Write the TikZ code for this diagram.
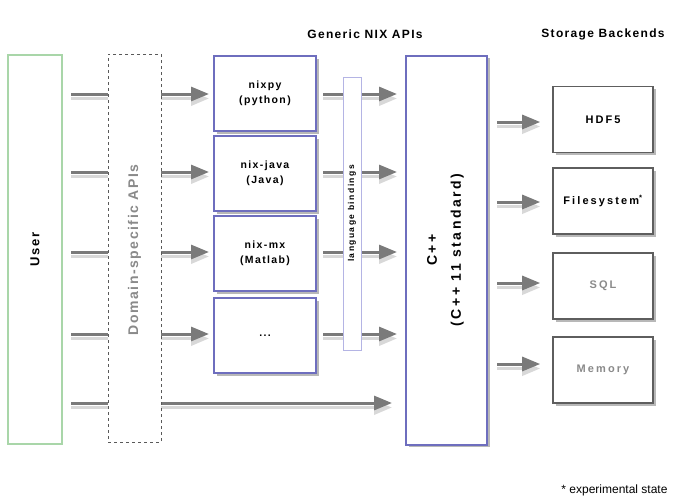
\documentclass[tikz,border=0pt]{standalone}
\usepackage{fontspec}
\setmainfont{Liberation Sans}
\usetikzlibrary{shadows,arrows.meta,calc}
\pgfdeclarelayer{bg}
\pgfsetlayers{bg,main}
\definecolor{arrowgray}{HTML}{7A7A7A}
\definecolor{shadowgray}{HTML}{D8D8D8}
\definecolor{apiblue}{HTML}{6E6EBE}
\definecolor{bindblue}{HTML}{B4B4E4}
\definecolor{usergreen}{HTML}{A9D6A9}
\definecolor{storegray}{HTML}{5E5E5E}
\definecolor{labelgray}{HTML}{8A8A8A}
\tikzset{
  boxshadow/.style={drop shadow={shadow xshift=2.5pt, shadow yshift=-2.5pt, fill=black, opacity=0.28}},
  apibox/.style={draw=apiblue, line width=2pt, fill=white, minimum width=102pt, minimum height=75pt, boxshadow, align=center, font=\fontsize{10.5}{15}\selectfont\bfseries\addfontfeature{LetterSpace=13}},
  storebox/.style={draw=storegray, line width=1.6pt, fill=white, minimum width=100pt, minimum height=66pt, boxshadow, font=\fontsize{11}{13}\selectfont\bfseries\addfontfeature{LetterSpace=19}},
  conn/.style={arrowgray, line width=3pt, -{Triangle[length=18pt, width=14pt]},
    preaction={draw=shadowgray, line width=3.5pt, -{Triangle[length=18pt, width=14pt]}, transform canvas={yshift=-4.5pt}}},
  plainconn/.style={arrowgray, line width=3pt,
    preaction={draw=shadowgray, line width=3.5pt, transform canvas={yshift=-4.5pt}}},
  title/.style={font=\fontsize{12}{14}\selectfont\bfseries\addfontfeature{LetterSpace=11}}
}
\begin{document}
\begin{tikzpicture}[x=1pt,y=-1pt]
\useasboundingbox (0,0) rectangle (674,501);
% user
\node[draw=usergreen, line width=2pt, fill=white, minimum width=54pt, minimum height=389pt] (user) at (35,249.5) {};
\node[rotate=90, font=\fontsize{13}{15}\selectfont\bfseries\addfontfeature{LetterSpace=14}] (usertxt) at (user) {User};
% domain specific
\node[draw=black!65, dashed, line width=0.8pt, fill=white, minimum width=53pt, minimum height=388pt] (dom) at (134.5,248) {};
\node[rotate=90, text=labelgray, font=\fontsize{14}{16}\selectfont\bfseries\addfontfeature{LetterSpace=11}] (domtxt) at ($(dom)+(0,2)$) {Domain-specific APIs};
% titles
\node[title] (t1) at (365,34) {Generic NIX APIs};
\node[title] (t2) at (603,34) {Storage Backends};
% api boxes
\node[apibox] (nixpy) at (265,93.5) {nixpy\\(python)};
\node[apibox] (java) at (265,173.5) {nix-java\\(Java)};
\node[apibox] (mx) at (265,253.5) {nix-mx\\(Matlab)};
\node[apibox] (dots) at (265,335.5) {...};
% bindings bar
\node[draw=bindblue, line width=1pt, fill=white, minimum width=18pt, minimum height=273pt] (bind) at (352,213.5) {};
\node[rotate=90, font=\fontsize{8.5}{10}\selectfont\bfseries\addfontfeature{LetterSpace=17}] (bindtxt) at (bind) {language bindings};
% C++
\node[draw=apiblue, line width=2pt, fill=white, minimum width=81pt, minimum height=389pt, boxshadow] (cpp) at (446.5,250) {};
\node[rotate=90, align=center, font=\fontsize{14}{24}\selectfont\bfseries\addfontfeature{LetterSpace=18}] (cpptxt) at ($(cpp)+(-1,0)$) {C++\\(C++ 11 standard)};
% storage
\node[storebox] (hdf) at (603,119.5) {HDF5};
\node[storebox] (fs) at (603,201) {Filesystem\textsuperscript{*}};
\node[storebox] (sql) at (603,286) {\textcolor{labelgray}{SQL}};
\node[storebox] (mem) at (603,370) {\textcolor{labelgray}{Memory}};
% footnote
\node[anchor=base east, font=\fontsize{12}{14}\selectfont] (note) at (671,493) {* experimental state};
\coordinate (drow) at (0,403);
\begin{pgfonlayer}{bg}
  % user -> APIs
  \foreach \b/\dy in {nixpy/0.5, java/-1.5, mx/-1.5, dots/-1.5}{
    \draw[plainconn, shorten <=8pt] ($(user.east |- \b.west)+(0,\dy)$) -- ($(dom.west |- \b.west)+(0,\dy)$);
    \draw[conn, shorten >=4pt] ($(dom.east |- \b.west)+(0,\dy)$) -- ($(\b.west)+(0,\dy)$);
    \draw[conn, shorten <=6pt, shorten >=8pt] ($(\b.east)+(0,\dy)$) -- ($(cpp.west |- \b.west)+(0,\dy)$);
  }
  \draw[plainconn, shorten <=8pt] (user.east |- drow) -- (dom.west |- drow);
  \draw[conn, shorten >=13pt] (dom.east |- drow) -- (cpp.west |- drow);
  % cpp -> storage
  \foreach \b/\dy in {hdf/2.5, fs/1, sql/-3, mem/-6}{
    \draw[conn, shorten <=9pt, shorten >=12pt] ($(cpp.east |- \b.west)+(0,\dy)$) -- ($(\b.west)+(0,\dy)$);
  }
\end{pgfonlayer}
\end{tikzpicture}
\end{document}
